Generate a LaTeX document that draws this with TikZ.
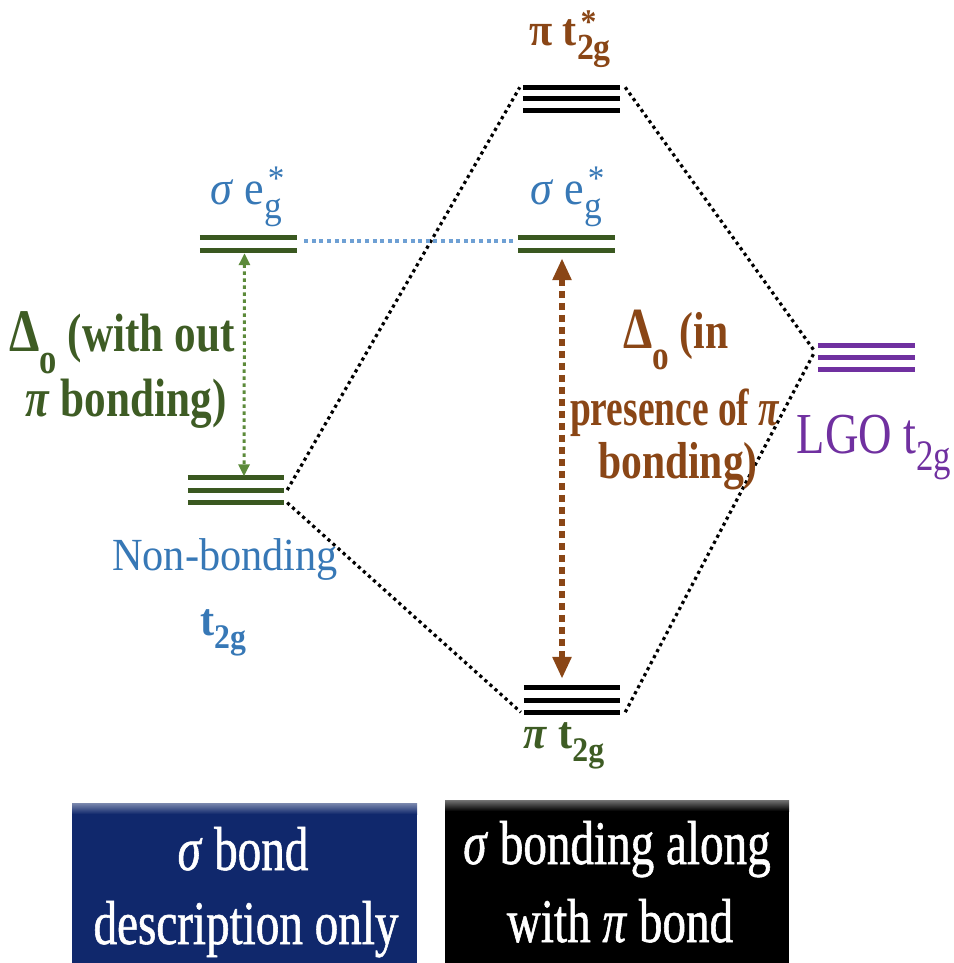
\documentclass[tikz,border=0pt]{standalone}
\usepackage{fontspec}
\setmainfont{Liberation Serif}
\newfontfamily\fa[FakeStretch=0.8]{Liberation Serif}
\newfontfamily\fb[FakeStretch=0.92]{Liberation Serif}
\newfontfamily\fc[FakeStretch=0.76,FakeBold=0.9]{Liberation Serif}
\usetikzlibrary{arrows.meta}
\definecolor{lvgreen}{RGB}{58,88,32}
\definecolor{txgreen}{RGB}{62,92,36}
\definecolor{argreen}{RGB}{92,138,58}
\definecolor{txblue}{RGB}{55,120,182}
\definecolor{dtblue}{RGB}{110,160,212}
\definecolor{txbrown}{RGB}{138,70,22}
\definecolor{txpurple}{RGB}{112,48,160}
\definecolor{navy}{RGB}{16,40,108}
\newcommand\lsub[1]{\raisebox{-0.3em}{\scalebox{0.75}{#1}}}
\newcommand\dsub[1]{\raisebox{-0.42em}{\scalebox{0.8}{#1}}}
\newcommand\lsubsup[2]{\rlap{\raisebox{0.28em}{\hspace{0.08em}\scalebox{0.75}{#2}}}\raisebox{-0.3em}{\scalebox{0.8}{#1}}}
\tikzset{
  lvlnode/.style={inner sep=0pt, minimum width=97pt},
  lvlline/.style={line width=5pt},
  conn/.style={black, line width=3.2pt, dash pattern=on 3.2pt off 3.6pt},
  lbl/.style={inner sep=0pt, anchor=base},
}
\begin{document}
\begin{tikzpicture}[x=1pt,y=-1pt]
\useasboundingbox (0,0) rectangle (953,963);
% level nodes
\node[lvlnode, minimum height=23pt] (pistar) at (571.5,99) {};
\node[lvlnode, minimum height=12pt] (egL) at (248.5,244) {};
\node[lvlnode, minimum height=12pt] (egR) at (566.5,244) {};
\node[lvlnode, minimum height=25pt, minimum width=96pt] (nb) at (236,490) {};
\node[lvlnode, minimum height=24pt, minimum width=96pt] (pit) at (572,700) {};
\node[lvlnode, minimum height=23.5pt] (lgo) at (866.5,357.5) {};
% level lines
\foreach \n/\c in {pistar/black,nb/lvgreen,pit/black,lgo/txpurple}{
  \draw[lvlline,\c] (\n.north west) -- (\n.north east);
  \draw[lvlline,\c] (\n.west) -- (\n.east);
  \draw[lvlline,\c] (\n.south west) -- (\n.south east);
}
\foreach \n in {egL,egR}{
  \draw[lvlline,lvgreen] (\n.north west) -- (\n.north east);
  \draw[lvlline,lvgreen] (\n.south west) -- (\n.south east);
}
% connectors
\draw[conn] ([xshift=3pt]nb.east) -- ([xshift=-3pt]pistar.north west);
\draw[conn] ([xshift=3pt]nb.south east) -- ([xshift=-3pt]pit.south west);
\draw[conn] ([xshift=5pt]pistar.north east) -- ([xshift=-3pt,yshift=6pt]lgo.west);
\draw[conn] ([xshift=5pt]pit.south east) -- ([xshift=-3pt,yshift=6pt]lgo.west);
\draw[dtblue, line width=4pt, dash pattern=on 4pt off 3.6pt] ([xshift=7pt,yshift=3pt]egL.east) -- ([xshift=-3pt,yshift=3pt]egR.west);
% arrows
\draw[argreen, line width=3pt, dash pattern=on 3.5pt off 3.5pt, {Triangle[length=12pt,width=11pt]}-{Triangle[length=12pt,width=11pt]}]
  ([xshift=-4pt,yshift=-3pt]egL.south) -- ([xshift=8pt,yshift=1pt]nb.north);
\draw[txbrown, line width=6pt, dash pattern=on 7pt off 5pt, {Triangle[length=22pt,width=18pt]}-{Triangle[length=22pt,width=18pt]}]
  ([xshift=-4.5pt,yshift=-8pt]egR.south) -- ([xshift=-10pt,yshift=9pt]pit.north);
% labels
\node[lbl, text=txbrown, font=\fb\fontsize{46}{50}\selectfont\bfseries] (lpistar) at (570,46) {π t\lsubsup{2g}{*}};
\node[lbl, text=txblue, font=\fb\fontsize{48}{50}\selectfont] (legL) at (246,204) {\textit{σ} e\lsubsup{g}{*}};
\node[lbl, text=txblue, font=\fb\fontsize{48}{50}\selectfont] (legR) at (566,204) {\textit{σ} e\lsubsup{g}{*}};
\node[lbl, text=txgreen, font=\fa\fontsize{54}{60}\selectfont\bfseries] (ld1) at (122,351) {\scalebox{1.12}{Δ}\dsub{o} (with out};
\node[lbl, text=txgreen, font=\fa\fontsize{54}{60}\selectfont\bfseries] (ld2) at (126,416) {\textit{π} bonding)};
\node[lbl, text=txbrown, font=\fa\fontsize{52}{60}\selectfont\bfseries] (lb1) at (676,348) {\scalebox{1.12}{Δ}\dsub{o} (in};
\node[lbl, text=txbrown, font=\fa\fontsize{52}{60}\selectfont\bfseries] (lb2) at (675,425) {\scalebox{0.9}[1]{presence of \textit{π}}};
\node[lbl, text=txbrown, font=\fa\fontsize{52}{60}\selectfont\bfseries] (lb3) at (678,478) {bonding)};
\node[lbl, text=txblue, font=\fb\fontsize{46}{50}\selectfont] (lnb) at (225,570) {Non-bonding};
\node[lbl, text=txblue, font=\fb\fontsize{46}{50}\selectfont\bfseries] (lt2g) at (223,635) {t\lsub{2g}};
\node[lbl, text=txgreen, font=\fb\fontsize{46}{50}\selectfont\bfseries] (lpit) at (564,748) {\textit{π} t\lsub{2g}};
\node[lbl, text=txpurple, font=\fa\fontsize{58}{60}\selectfont] (llgo) at (874,453) {LGO t\lsub{2g}};
% boxes
\fill[navy] (72,803) rectangle (417,963);
\shade[top color=navy!55!white, bottom color=navy] (72,803) rectangle (417,814);
\fill[black] (445,800) rectangle (789,963);
\shade[top color=black!55, bottom color=black] (445,800) rectangle (789,811);
\node[lbl, text=white, font=\fc\fontsize{62}{64}\selectfont] (bx1a) at (243,870) {\textit{σ} bond};
\node[lbl, text=white, font=\fc\fontsize{62}{64}\selectfont] (bx1b) at (246,944) {description only};
\node[lbl, text=white, font=\fc\fontsize{62}{64}\selectfont] (bx2a) at (617,864) {\textit{σ} bonding along};
\node[lbl, text=white, font=\fc\fontsize{62}{64}\selectfont] (bx2b) at (620,942) {with \textit{π} bond};
\end{tikzpicture}
\end{document}
